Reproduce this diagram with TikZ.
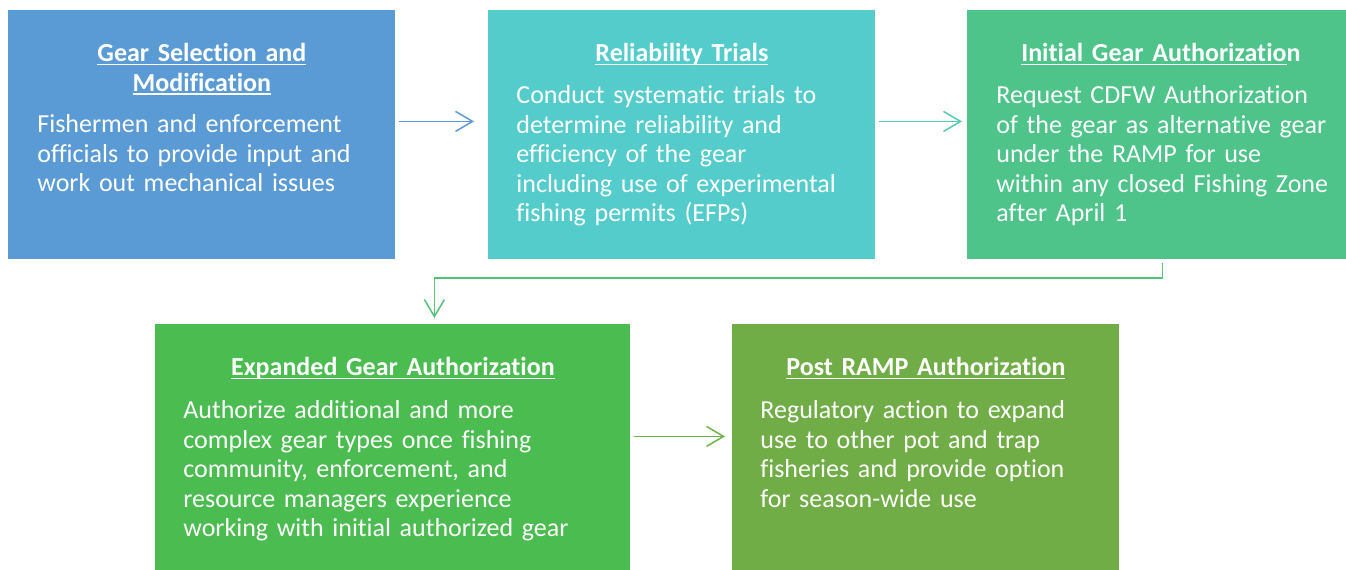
\documentclass[tikz,border=0pt]{standalone}
\usepackage{fontspec}
\setmainfont{Carlito}[Ligatures=NoCommon]
\newsavebox{\ttlbox}
\newcommand{\ttlline}[1]{\leavevmode\sbox{\ttlbox}{#1}\rlap{\rule[-1.7pt]{\wd\ttlbox}{0.6pt}}\usebox{\ttlbox}}
\usetikzlibrary{arrows.meta,positioning}
\definecolor{gsmblue}{HTML}{5B9BD5}
\definecolor{rtteal}{HTML}{55CCCC}
\definecolor{igagreen}{HTML}{4EC48B}
\definecolor{egagreen}{HTML}{4BBC50}
\definecolor{praolive}{HTML}{70AD47}
\definecolor{linkteal}{HTML}{55CBB0}
\definecolor{linkgreen}{HTML}{52C478}
\definecolor{linkolive}{HTML}{6DB54A}
\begin{document}
\begin{tikzpicture}[x=0.5pt, y=-0.5pt,
    stage/.style={fill=#1, minimum width=193.5pt, minimum height=124.5pt, anchor=north west, inner sep=0pt},
    ttl/.style={text=white, font=\fontsize{13}{14.75}\selectfont\bfseries, align=center, text width=190pt, inner sep=0pt, anchor=base},
    txt/.style={text=white, font=\fontsize{13}{14.75}\selectfont, align=left, text width=210pt, inner sep=0pt, anchor=base west},
    link/.style={-{Straight Barb[length=8.5pt,width=10pt]}, line width=0.75pt}]
    \fill[white] (0,0) rectangle (1346,569);
    \useasboundingbox (0,0) rectangle (1346,569);
    % stage boxes
    \node[stage=gsmblue] (gsm) at (8,10) {};
    \node[stage=rtteal] (rt) at (488,10) {};
    \node[stage=igagreen] (iga) at (967,10) {};
    \node[stage=egagreen, minimum width=237.5pt] (ega) at (155,324) {};
    \node[stage=praolive] (pra) at (732,324) {};
    % titles
    \node[ttl] (gsm-t) at ([yshift=-25.85pt]gsm.north) {\ttlline{Gear Selection and}\\\ttlline{Modification}};
    \node[ttl] (rt-t) at ([yshift=-25.85pt]rt.north) {\ttlline{Reliability Trials}};
    \node[ttl] (iga-t) at ([yshift=-25.85pt]iga.north) {\ttlline{Initial Gear Authorizatio}n};
    \node[ttl] (ega-t) at ([yshift=-25.85pt]ega.north) {\ttlline{Expanded Gear Authorization}};
    \node[ttl] (pra-t) at ([yshift=-25.85pt]pra.north) {\ttlline{Post RAMP Authorization}};
    % texts
    \node[txt] (gsm-b) at ([xshift=14.5pt,yshift=-61.35pt]gsm.north west)
        {Fishermen and enforcement\\officials to provide input and\\work out mechanical issues};
    \node[txt] (rt-b) at ([xshift=14pt,yshift=-46.85pt]rt.north west)
        {Conduct systematic trials to\\determine reliability and\\efficiency of the gear\\including use of experimental\\fishing permits (EFPs)};
    \node[txt] (iga-b) at ([xshift=14.5pt,yshift=-46.85pt]iga.north west)
        {Request CDFW Authorization\\of the gear as alternative gear\\under the RAMP for use\\within any closed Fishing Zone\\after April 1};
    \node[txt] (ega-b) at ([xshift=14pt,yshift=-47.35pt]ega.north west)
        {Authorize additional and more\\complex gear types once fishing\\community, enforcement, and\\resource managers experience\\working with initial authorized gear};
    \node[txt] (pra-b) at ([xshift=14pt,yshift=-47.35pt]pra.north west)
        {Regulatory action to expand\\use to other pot and trap\\fisheries and provide option\\for season-wide use};
    % connectors
    \draw[link, gsmblue] ([xshift=1.5pt,yshift=6.75pt]gsm.east) -- ([xshift=-7pt,yshift=6.75pt]rt.west);
    \draw[link, linkteal] ([xshift=1.5pt,yshift=6.75pt]rt.east) -- ([xshift=-2.5pt,yshift=6.75pt]iga.west);
    \coordinate (ega-in) at ([xshift=20.75pt,yshift=3pt]ega.north);
    \draw[link, linkgreen] ([xshift=0.75pt,yshift=-1.5pt]iga.south) |- ([yshift=20pt]ega-in) -- (ega-in);
    \draw[link, linkolive] ([xshift=1.5pt,yshift=6.25pt]ega.east) -- ([xshift=-3.5pt,yshift=6.25pt]pra.west);
\end{tikzpicture}
\end{document}
